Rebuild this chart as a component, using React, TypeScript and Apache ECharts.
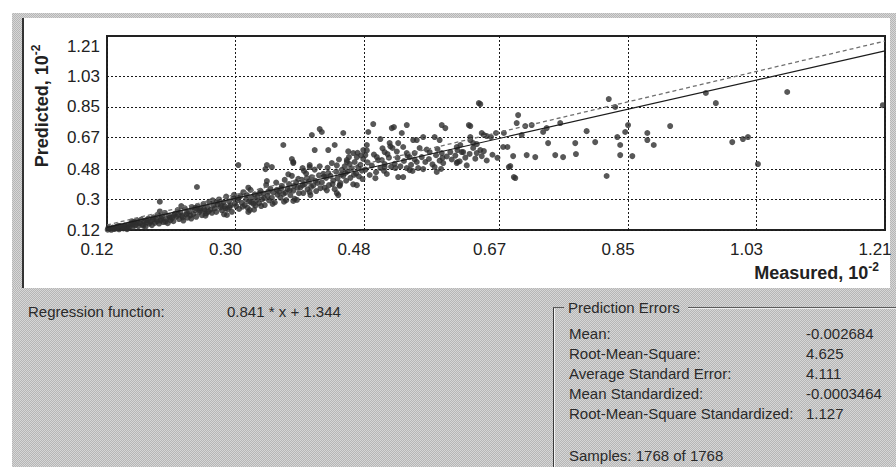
import React, { useEffect, useRef } from "react";
import * as echarts from "echarts";

// ---- axes ----
const X_MIN = 0.12;
const X_MAX = 1.21;
const Y_MIN = 0.12;
const Y_MAX = 1.27;
const X_TICKS = [0.12, 0.3, 0.48, 0.67, 0.85, 1.03, 1.21];
const X_TICK_LABELS = ["0.12", "0.30", "0.48", "0.67", "0.85", "1.03", "1.21"];
const Y_TICKS = [0.12, 0.3, 0.48, 0.67, 0.85, 1.03, 1.21];
const Y_TICK_LABELS = ["0.12", "0.3", "0.48", "0.67", "0.85", "1.03", "1.21"];
const Y_GRID = [0.12, 0.3, 0.48, 0.67, 0.85, 1.03];

// ---- lines ----
const REG_SLOPE = 0.96;
const REG_INTERCEPT = 0.02;
const REF_SLOPE = 1.0;
const REF_INTERCEPT = 0.03;

// ---- texts ----
const REGRESSION_LABEL = "Regression function:";
const REGRESSION_TEXT = "0.841 * x + 1.344";
const ERRORS_TITLE = "Prediction Errors";
const ERROR_LABELS = [
  "Mean:",
  "Root-Mean-Square:",
  "Average Standard Error:",
  "Mean Standardized:",
  "Root-Mean-Square Standardized:",
];
const ERROR_VALUES = ["-0.002684", "4.625", "4.111", "-0.0003464", "1.127"];
const SAMPLES_TEXT = "Samples: 1768 of 1768";

// ---- points [measured, predicted] ----
const BAND_LOW: number[][] = [
  [0.121, 0.122], [0.124, 0.128], [0.126, 0.121], [0.128, 0.134], [0.131, 0.126],
  [0.133, 0.139], [0.135, 0.13], [0.137, 0.124], [0.139, 0.143], [0.141, 0.135],
  [0.143, 0.129], [0.145, 0.148], [0.147, 0.138], [0.149, 0.131], [0.15, 0.152],
  [0.122, 0.133], [0.129, 0.127], [0.136, 0.145], [0.144, 0.14], [0.148, 0.125],
  [0.152, 0.141], [0.154, 0.158], [0.156, 0.135], [0.158, 0.167], [0.16, 0.149],
  [0.162, 0.176], [0.164, 0.143], [0.166, 0.16], [0.168, 0.182], [0.17, 0.152],
  [0.172, 0.171], [0.174, 0.14], [0.176, 0.165], [0.178, 0.188], [0.179, 0.157],
  [0.157, 0.151], [0.163, 0.162], [0.171, 0.145], [0.175, 0.178], [0.155, 0.172],
  [0.181, 0.17], [0.183, 0.149], [0.185, 0.195], [0.187, 0.162], [0.189, 0.183],
  [0.191, 0.21], [0.193, 0.158], [0.195, 0.176], [0.197, 0.199], [0.199, 0.167],
  [0.201, 0.221], [0.203, 0.186], [0.205, 0.16], [0.207, 0.204], [0.209, 0.178],
  [0.184, 0.181], [0.19, 0.172], [0.196, 0.188], [0.202, 0.17], [0.208, 0.193],
  [0.194, 0.23],
  [0.211, 0.192], [0.213, 0.172], [0.215, 0.216], [0.217, 0.199], [0.219, 0.238],
  [0.221, 0.185], [0.223, 0.224], [0.225, 0.205], [0.227, 0.176], [0.229, 0.249],
  [0.231, 0.212], [0.233, 0.193], [0.235, 0.23], [0.237, 0.206], [0.239, 0.256],
  [0.214, 0.207], [0.22, 0.211], [0.226, 0.195], [0.232, 0.221], [0.238, 0.188],
  [0.224, 0.262],
  [0.241, 0.215], [0.243, 0.238], [0.245, 0.198], [0.247, 0.262], [0.249, 0.226],
  [0.251, 0.247], [0.253, 0.208], [0.255, 0.274], [0.257, 0.233], [0.259, 0.218],
  [0.261, 0.255], [0.263, 0.287], [0.265, 0.24], [0.267, 0.222], [0.269, 0.266],
  [0.244, 0.251], [0.25, 0.236], [0.256, 0.244], [0.262, 0.229], [0.268, 0.296],
  [0.258, 0.205],
  [0.271, 0.248], [0.273, 0.227], [0.275, 0.272], [0.277, 0.301], [0.279, 0.254],
  [0.281, 0.236], [0.283, 0.283], [0.285, 0.261], [0.287, 0.318], [0.289, 0.243],
  [0.291, 0.29], [0.293, 0.266], [0.295, 0.228], [0.297, 0.309], [0.299, 0.276],
  [0.274, 0.289], [0.28, 0.267], [0.286, 0.248], [0.292, 0.256], [0.298, 0.329],
  [0.284, 0.213],
];

const BAND_HIGH: number[][] = [
  [0.301, 0.262], [0.303, 0.297], [0.305, 0.245], [0.307, 0.321], [0.309, 0.281],
  [0.311, 0.344], [0.313, 0.268], [0.315, 0.303], [0.317, 0.252], [0.319, 0.289],
  [0.321, 0.358], [0.323, 0.312], [0.325, 0.275], [0.327, 0.331], [0.329, 0.296],
  [0.304, 0.31], [0.31, 0.258], [0.316, 0.327], [0.322, 0.284], [0.328, 0.265],
  [0.318, 0.371], [0.326, 0.24],
  [0.331, 0.318], [0.333, 0.279], [0.335, 0.352], [0.337, 0.301], [0.339, 0.336],
  [0.341, 0.268], [0.343, 0.387], [0.345, 0.322], [0.347, 0.296], [0.349, 0.364],
  [0.351, 0.31], [0.353, 0.343], [0.355, 0.283], [0.357, 0.401], [0.359, 0.329],
  [0.334, 0.338], [0.34, 0.309], [0.346, 0.348], [0.352, 0.275], [0.358, 0.358],
  [0.344, 0.41], [0.336, 0.262],
  [0.361, 0.346], [0.363, 0.312], [0.365, 0.381], [0.367, 0.334], [0.369, 0.417],
  [0.371, 0.297], [0.373, 0.362], [0.375, 0.392], [0.377, 0.326], [0.379, 0.441],
  [0.381, 0.353], [0.383, 0.305], [0.385, 0.404], [0.387, 0.371], [0.389, 0.338],
  [0.364, 0.367], [0.37, 0.342], [0.376, 0.356], [0.382, 0.382], [0.388, 0.423],
  [0.374, 0.45], [0.368, 0.288],
  [0.391, 0.372], [0.393, 0.418], [0.395, 0.339], [0.397, 0.392], [0.399, 0.455],
  [0.401, 0.361], [0.403, 0.407], [0.405, 0.327], [0.407, 0.433], [0.409, 0.384],
  [0.411, 0.478], [0.413, 0.351], [0.415, 0.399], [0.417, 0.444], [0.419, 0.368],
  [0.394, 0.386], [0.4, 0.427], [0.406, 0.376], [0.412, 0.412], [0.418, 0.498],
  [0.404, 0.345], [0.396, 0.47],
  [0.421, 0.402], [0.423, 0.453], [0.425, 0.371], [0.427, 0.429], [0.429, 0.489],
  [0.431, 0.386], [0.433, 0.441], [0.435, 0.517], [0.437, 0.413], [0.439, 0.362],
  [0.441, 0.466], [0.443, 0.426], [0.445, 0.538], [0.447, 0.398], [0.449, 0.477],
  [0.424, 0.437], [0.43, 0.458], [0.436, 0.392], [0.442, 0.503], [0.448, 0.448],
  [0.428, 0.355], [0.446, 0.382],
  [0.451, 0.441], [0.453, 0.497], [0.455, 0.412], [0.457, 0.468], [0.459, 0.552],
  [0.461, 0.429], [0.463, 0.485], [0.465, 0.391], [0.467, 0.523], [0.469, 0.456],
  [0.471, 0.578], [0.473, 0.437], [0.475, 0.506], [0.477, 0.472], [0.479, 0.541],
  [0.454, 0.458], [0.46, 0.511], [0.466, 0.447], [0.472, 0.493], [0.478, 0.422],
  [0.458, 0.586], [0.476, 0.562],
];

const MID_POINTS: number[][] = [
  [0.482, 0.478], [0.485, 0.521], [0.488, 0.446], [0.491, 0.502], [0.494, 0.567],
  [0.497, 0.463], [0.5, 0.534], [0.503, 0.488], [0.506, 0.604], [0.509, 0.511],
  [0.512, 0.452], [0.515, 0.549], [0.518, 0.495], [0.484, 0.592], [0.496, 0.427],
  [0.508, 0.471], [0.517, 0.616],
  [0.523, 0.512], [0.527, 0.548], [0.531, 0.497], [0.536, 0.529], [0.541, 0.561],
  [0.546, 0.506], [0.551, 0.538], [0.556, 0.487], [0.561, 0.552], [0.566, 0.523],
  [0.571, 0.541], [0.576, 0.509], [0.581, 0.563], [0.586, 0.531], [0.591, 0.517],
  [0.596, 0.556], [0.526, 0.585], [0.548, 0.47], [0.568, 0.597], [0.588, 0.482],
  [0.603, 0.538], [0.608, 0.561], [0.614, 0.527], [0.622, 0.549], [0.628, 0.571],
  [0.636, 0.543], [0.645, 0.558], [0.652, 0.532], [0.66, 0.566], [0.667, 0.548],
  [0.624, 0.503], [0.648, 0.588],
  [0.486, 0.701], [0.493, 0.748], [0.519, 0.724], [0.522, 0.73], [0.54, 0.742],
  [0.589, 0.742], [0.594, 0.724], [0.627, 0.742], [0.641, 0.872],
  [0.503, 0.659], [0.516, 0.635], [0.528, 0.635], [0.533, 0.695], [0.549, 0.653],
  [0.554, 0.653], [0.563, 0.671], [0.579, 0.671], [0.586, 0.653], [0.509, 0.582],
  [0.513, 0.57], [0.52, 0.606], [0.535, 0.612], [0.54, 0.576], [0.544, 0.552],
  [0.551, 0.576], [0.558, 0.606], [0.572, 0.582], [0.583, 0.6], [0.589, 0.576],
  [0.59, 0.547], [0.601, 0.582], [0.611, 0.594], [0.615, 0.624], [0.619, 0.582],
  [0.629, 0.653], [0.633, 0.635], [0.643, 0.594], [0.638, 0.576], [0.648, 0.683],
  [0.658, 0.671], [0.665, 0.695], [0.611, 0.523], [0.579, 0.493], [0.582, 0.464],
  [0.528, 0.434], [0.535, 0.434], [0.524, 0.487], [0.54, 0.487], [0.544, 0.475],
  [0.563, 0.481], [0.554, 0.523], [0.509, 0.493], [0.505, 0.535], [0.498, 0.552],
];

const SCATTERED_POINTS: number[][] = [
  [0.246, 0.375], [0.288, 0.209], [0.318, 0.227], [0.194, 0.288], [0.304, 0.505],
  [0.344, 0.505], [0.381, 0.523], [0.404, 0.505], [0.456, 0.523], [0.465, 0.576],
  [0.386, 0.298], [0.442, 0.339], [0.446, 0.386],
  [0.407, 0.683], [0.418, 0.718], [0.421, 0.701], [0.451, 0.695], [0.367, 0.624],
  [0.411, 0.594], [0.43, 0.594], [0.439, 0.624], [0.379, 0.541], [0.381, 0.517],
  [0.394, 0.487], [0.404, 0.493], [0.342, 0.481], [0.351, 0.493], [0.456, 0.535],
  [0.47, 0.552], [0.479, 0.594], [0.484, 0.624], [0.482, 0.564], [0.47, 0.386],
  [0.444, 0.327], [0.381, 0.292], [0.32, 0.238],
  [0.643, 0.866], [0.629, 0.736], [0.696, 0.801], [0.694, 0.754], [0.706, 0.736],
  [0.715, 0.742], [0.736, 0.724], [0.755, 0.754], [0.823, 0.896], [0.832, 0.849],
  [0.85, 0.742], [0.909, 0.736], [0.959, 0.932], [0.973, 0.872], [1.073, 0.938],
  [1.207, 0.86], [0.877, 0.695], [0.877, 0.653], [0.886, 0.624], [0.996, 0.641],
  [1.011, 0.659], [1.018, 0.671], [0.792, 0.706], [0.804, 0.641], [0.776, 0.635],
  [0.738, 0.635], [0.835, 0.671], [0.839, 0.624], [0.846, 0.701], [0.675, 0.612],
  [0.645, 0.695], [0.652, 0.677], [0.629, 0.671], [0.638, 0.629], [0.633, 0.606],
  [0.61, 0.612], [0.617, 0.582], [0.689, 0.558], [0.708, 0.564], [0.72, 0.552],
  [0.748, 0.564], [0.759, 0.552], [0.777, 0.57], [0.839, 0.564], [0.856, 0.558],
  [0.61, 0.517], [0.685, 0.499], [0.692, 0.428], [0.82, 0.44], [1.032, 0.511],
  [0.676, 0.695], [0.681, 0.612], [0.683, 0.493], [0.69, 0.434], [0.701, 0.683],
  [0.731, 0.701],
];

const FONT = '"Liberation Sans", Arial, sans-serif';
const TEXT_COLOR = "#222";

const tickIndex = (ticks: number[], v: number) =>
  ticks.findIndex((t) => Math.abs(t - v) < 1e-6);

function buildOption() {
  const regLine = [X_MIN, X_MAX].map((x) => [x, REG_SLOPE * x + REG_INTERCEPT]);
  const refLine = [X_MIN, X_MAX].map((x) => [x, REF_SLOPE * x + REF_INTERCEPT]);
  const points = [...BAND_LOW, ...BAND_HIGH, ...MID_POINTS, ...SCATTERED_POINTS];

  const small = { fontSize: 15, fontFamily: FONT, fill: "#2a2a2a" };
  const rowTop = 333;
  const rowStep = 20;

  const titleRich = {
    b: { fontSize: 18, fontWeight: "bold", fontFamily: FONT, lineHeight: 24, fill: TEXT_COLOR },
    s: { fontSize: 12, fontWeight: "bold", fontFamily: FONT, lineHeight: 12, verticalAlign: "top", fill: TEXT_COLOR },
  };

  const graphics: any[] = [
    {
      type: "text",
      x: 42,
      y: 106,
      rotation: Math.PI / 2,
      z: 100,
      style: {
        text: "{b|Predicted, 10}{s|-2}",
        align: "center",
        verticalAlign: "middle",
        fill: TEXT_COLOR,
        rich: titleRich,
      },
    },
    {
      type: "text",
      x: 879,
      y: 273,
      z: 100,
      style: {
        text: "{b|Measured, 10}{s|-2}",
        align: "right",
        verticalAlign: "middle",
        fill: TEXT_COLOR,
        rich: titleRich,
      },
    },
    { type: "text", x: 28, y: 311, z: 100, style: { ...small, text: REGRESSION_LABEL, verticalAlign: "middle" } },
    { type: "text", x: 227, y: 311, z: 100, style: { ...small, text: REGRESSION_TEXT, verticalAlign: "middle" } },
    { type: "line", z: 100, shape: { x1: 553.5, y1: 307.5, x2: 553.5, y2: 467 }, style: { stroke: "#3a3a3a", lineWidth: 1 } },
    { type: "line", z: 100, shape: { x1: 554.5, y1: 308.5, x2: 554.5, y2: 467 }, style: { stroke: "#f4f4f4", lineWidth: 1 } },
    { type: "line", z: 100, shape: { x1: 553, y1: 307.5, x2: 564, y2: 307.5 }, style: { stroke: "#5a5a5a", lineWidth: 1 } },
    { type: "line", z: 100, shape: { x1: 688, y1: 307.5, x2: 896, y2: 307.5 }, style: { stroke: "#5a5a5a", lineWidth: 1 } },
    { type: "line", z: 100, shape: { x1: 688, y1: 308.5, x2: 896, y2: 308.5 }, style: { stroke: "#eeeeee", lineWidth: 1 } },
    { type: "text", x: 568, y: 307, z: 100, style: { ...small, text: ERRORS_TITLE, verticalAlign: "middle" } },
    { type: "text", x: 569, y: 455, z: 100, style: { ...small, text: SAMPLES_TEXT, verticalAlign: "middle" } },
  ];
  ERROR_LABELS.forEach((label, i) => {
    graphics.push({
      type: "text", x: 569, y: rowTop + i * rowStep, z: 100,
      style: { ...small, text: label, verticalAlign: "middle" },
    });
    graphics.push({
      type: "text", x: 806, y: rowTop + i * rowStep, z: 100,
      style: { ...small, text: ERROR_VALUES[i], verticalAlign: "middle" },
    });
  });

  const splitStyle = { color: "#1a1a1a", type: [2, 2] as any, width: 1 };

  return {
    animation: false,
    backgroundColor: "transparent",
    textStyle: { fontFamily: FONT },
    grid: {
      left: 107,
      top: 36,
      right: 11,
      bottom: 237,
      show: true,
      backgroundColor: "#ffffff",
      borderColor: "#222",
      borderWidth: 2,
      containLabel: false,
      outerBoundsMode: "none",
    },
    xAxis: {
      type: "value",
      min: X_MIN,
      max: X_MAX,
      axisLine: { show: false },
      axisTick: { show: false, customValues: X_TICKS },
      splitLine: { show: true, lineStyle: splitStyle },
      axisLabel: {
        customValues: X_TICKS,
        formatter: (v: number) => {
          const i = tickIndex(X_TICKS, v);
          return i >= 0 ? X_TICK_LABELS[i] : "";
        },
        fontSize: 17,
        fontFamily: FONT,
        color: TEXT_COLOR,
        margin: 11,
        padding: [0, 20, 0, 0],
      },
    },
    yAxis: {
      type: "value",
      min: Y_MIN,
      max: Y_MAX,
      axisLine: { show: false },
      axisTick: { show: false, customValues: Y_GRID },
      splitLine: { show: true, lineStyle: splitStyle },
      axisLabel: {
        customValues: Y_TICKS,
        formatter: (v: number) => {
          const i = tickIndex(Y_TICKS, v);
          return i >= 0 ? Y_TICK_LABELS[i] : "";
        },
        fontSize: 17,
        fontFamily: FONT,
        color: TEXT_COLOR,
        margin: 7,
        padding: [0, 0, 16, 0],
      },
    },
    graphic: { elements: graphics },
    series: [
      {
        type: "line",
        data: refLine,
        symbol: "none",
        silent: true,
        lineStyle: { color: "#707070", width: 1.3, type: [4, 3] },
      },
      {
        type: "line",
        data: regLine,
        symbol: "none",
        silent: true,
        lineStyle: { color: "#1c1c1c", width: 1.2 },
      },
      {
        type: "scatter",
        data: points,
        symbol: "circle",
        symbolSize: 6,
        silent: true,
        itemStyle: { color: "#2e2e2e" },
      },
    ],
  };
}

const dither: React.CSSProperties = {
  position: "absolute",
  backgroundColor: "#c8c8c8",
  backgroundImage: "repeating-conic-gradient(#b6b6b6 0% 25%, #d6d6d6 0% 50%)",
  backgroundSize: "2px 2px",
};

export default function App() {
  const ref = useRef<HTMLDivElement>(null);
  useEffect(() => {
    document.body.style.margin = "0";
    const chart = echarts.init(ref.current!, null, { renderer: "svg" });
    chart.setOption(buildOption() as any);
    return () => chart.dispose();
  }, []);
  return (
    <div style={{ position: "relative", width: 896, height: 467, background: "#ffffff", overflow: "hidden" }}>
      <div style={{ ...dither, left: 12, top: 13, width: 884, height: 5 }} />
      <div style={{ ...dither, left: 12, top: 13, width: 10, height: 454 }} />
      <div style={{ ...dither, left: 890, top: 13, width: 6, height: 276 }} />
      <div style={{ ...dither, left: 12, top: 288, width: 884, height: 179 }} />
      <div style={{ position: "absolute", left: 22, top: 18, width: 2, height: 270, background: "#333" }} />
      <div ref={ref} style={{ position: "absolute", left: 0, top: 0, width: 896, height: 467 }} />
    </div>
  );
}
